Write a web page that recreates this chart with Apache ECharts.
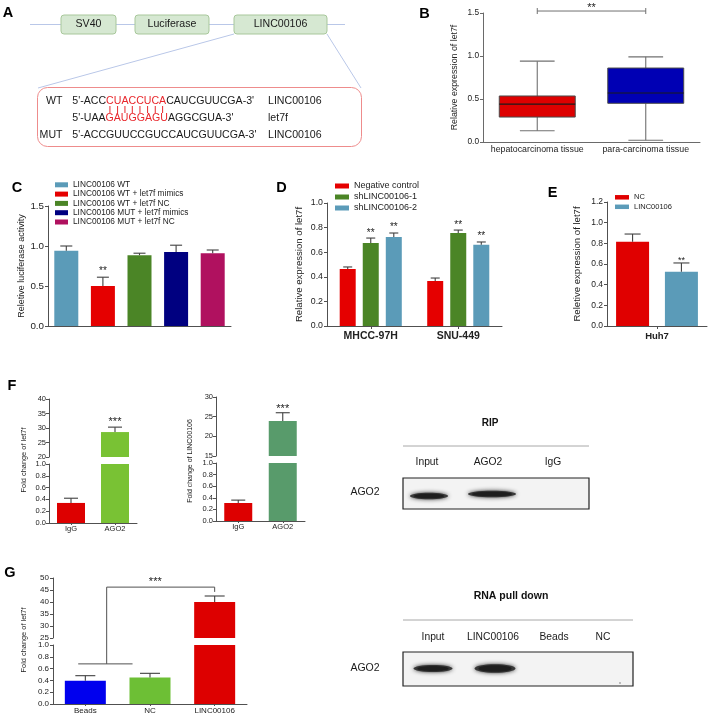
<!DOCTYPE html>
<html><head><meta charset="utf-8">
<script src="https://cdn.jsdelivr.net/npm/echarts@6.0.0/dist/echarts.min.js"></script>
<style>html,body{margin:0;padding:0;background:#fff}#c{width:708px;height:716px}</style>
</head><body><div id="c"></div>
<script>
// ================= DATA =================
// Panel A (construct diagram)
const aElements = ['SV40', 'Luciferase', 'LINC00106'];
const aRowLabels = ['WT', '', 'MUT'];
const aSeqPre = ["5'-ACC", "5'-UAA", "5'-ACCGUUCCGUCCAUCGUUCGA-3'"];
const aSeqSeed = ['CUACCUCA', 'GAUGGAGU', ''];
const aSeqPost = ["CAUCGUUCGA-3'", "AGGCGUA-3'", ''];
const aSeqName = ['LINC00106', 'let7f', 'LINC00106'];

// Panel B (box plot: min, Q1, median, Q3, max)
const bCategories = ['hepatocarcinoma tissue', 'para-carcinoma tissue'];
const bBoxes = [[0.13, 0.29, 0.44, 0.535, 0.94], [0.02, 0.45, 0.57, 0.86, 0.99]];
const bSig = '**';

// Panel C
const cSeries = ['LINC00106 WT', 'LINC00106 WT + let7f mimics', 'LINC00106 WT + let7f NC', 'LINC00106 MUT + let7f mimics', 'LINC00106 MUT + let7f NC'];
const cValues = [0.94, 0.50, 0.885, 0.925, 0.91];
const cErrTop = [1.00, 0.61, 0.91, 1.01, 0.95];
const cStars = ['', '**', '', '', ''];

// Panel D
const dCategories = ['MHCC-97H', 'SNU-449'];
const dSeries = ['Negative control', 'shLINC00106-1', 'shLINC00106-2'];
const dValues = [[0.463, 0.366], [0.675, 0.756], [0.723, 0.66]];
const dErrTop = [[0.48, 0.39], [0.715, 0.78], [0.756, 0.683]];
const dStars = [['', ''], ['**', '**'], ['**', '**']];

// Panel E
const eCategories = ['Huh7'];
const eSeries = ['NC', 'LINC00106'];
const eValues = [[0.815], [0.525]];
const eErrTop = [[0.89], [0.61]];
const eStars = [[''], ['**']];

// Panel F
const fCategories = ['IgG', 'AGO2'];
const f1Values = [0.34, 28.6];
const f1ErrTop = [0.42, 30.3];
const f1Stars = ['', '***'];
const f2Values = [0.31, 23.9];
const f2ErrTop = [0.36, 26.0];
const f2Stars = ['', '***'];

// Panel G
const gCategories = ['Beads', 'NC', 'LINC00106'];
const gValues = [0.395, 0.45, 40.0];
const gErrTop = [0.48, 0.52, 42.5];
const gSig = '***';

// Blots
const ripLanes = ['Input', 'AGO2', 'IgG'];
const ripBand = [1, 1, 0];
const pullLanes = ['Input', 'LINC00106', 'Beads', 'NC'];
const pullBand = [1, 1, 0, 0];

// ================= STYLE =================
const FONT = '"Liberation Sans", Arial, Helvetica, sans-serif';
const AXIS = '#505050', TXT = '#222';
const bColors = ['#dd0000', '#0000b4'];
const cColors = ['#5b9bb8', '#e50000', '#4b8526', '#000080', '#b0115f'];
const dColors = ['#e50000', '#4b8526', '#5b9bb8'];
const eColors = ['#e00000', '#5b9bb8'];
const f1Colors = ['#dd0000', '#79c234'];
const f2Colors = ['#dd0000', '#589b6b'];
const gColors = ['#0000ee', '#6dbf35', '#dd0000'];

const chart = echarts.init(document.getElementById('c'), null, {renderer: 'canvas', width: 708, height: 716});

function catAx(grid, data, o) {
  o = o || {};
  return {type: 'category', gridIndex: grid, data, show: o.show !== false,
    axisLine: {show: true, lineStyle: {color: o.color || AXIS, width: 1}},
    axisTick: {show: !!o.tick, alignWithLabel: true, length: o.tickLen || 3, lineStyle: {color: o.color || AXIS}},
    axisLabel: {show: o.labels !== false, fontSize: o.fs || 8, fontWeight: o.bold ? 'bold' : 'normal', color: TXT, fontFamily: FONT, margin: o.margin || 4, interval: 0},
    splitLine: {show: false}};
}
function valAx(grid, min, max, interval, o) {
  return {type: 'value', gridIndex: grid, min, max, interval,
    axisLine: {show: true, lineStyle: {color: o.color || AXIS, width: 1}},
    axisTick: {show: true, length: 3, lineStyle: {color: o.color || AXIS}},
    splitLine: {show: false},
    axisLabel: {fontSize: o.fs, color: TXT, fontFamily: FONT, margin: o.margin || 4, formatter: v => (+v).toFixed(o.dec)},
    name: o.name || '', nameLocation: 'middle', nameGap: o.nameGap || 20,
    nameTextStyle: {fontSize: o.nameFs || 9, color: TXT, fontFamily: FONT}};
}
function bar(name, xi, data, color, width, gap) {
  return {type: 'bar', name, xAxisIndex: xi, yAxisIndex: xi, data, barWidth: width, barGap: gap,
    itemStyle: {color}, z: 2, clip: true, silent: true};
}
function colored(vals, colors) { return vals.map((v, i) => ({value: v, itemStyle: {color: colors[i]}})); }
function errSeries(xi, vals, errs, stars, opt) {
  return {type: 'custom', xAxisIndex: xi, yAxisIndex: xi, z: 4, silent: true,
    data: vals.map((v, i) => [i, v, errs[i]]),
    renderItem(params, api) {
      const cs = params.coordSys;
      const i = api.value(0), v = api.value(1), e = api.value(2);
      const p1 = api.coord([i, v]), p2 = api.coord([i, e]);
      const x = p1[0] + (opt.offset || 0);
      const top = cs.y - 0.6, bot = cs.y + cs.height + 0.6;
      if (p2[1] < top || p2[1] > bot) return null;
      const y1 = Math.min(p1[1], bot);
      const st = {stroke: '#404040', lineWidth: 1.1};
      const ch = [
        {type: 'line', shape: {x1: x, y1: y1, x2: x, y2: p2[1]}, style: st},
        {type: 'line', shape: {x1: x - opt.cap / 2, y1: p2[1], x2: x + opt.cap / 2, y2: p2[1]}, style: st}
      ];
      const s = stars && stars[params.dataIndex];
      if (s) ch.push({type: 'text', x: x, y: p2[1] - opt.starGap + 0.27 * opt.starSize,
        style: {text: s, fontSize: opt.starSize, fontFamily: FONT, fill: '#222', align: 'center', verticalAlign: 'middle'}});
      return {type: 'group', children: ch};
    }};
}

const grids = [
  {left: 483, top: 13, width: 217, height: 129},  // 0 B
  {left: 48, top: 206, width: 183, height: 120},  // 1 C
  {left: 327, top: 203, width: 175, height: 123}, // 2 D
  {left: 607, top: 202, width: 100, height: 124}, // 3 E
  {left: 49, top: 399, width: 88, height: 58},    // 4 F1 upper
  {left: 49, top: 464, width: 88, height: 59},    // 5 F1 lower
  {left: 216, top: 397, width: 89, height: 59},   // 6 F2 upper
  {left: 216, top: 463, width: 89, height: 58},   // 7 F2 lower
  {left: 53, top: 578, width: 194, height: 60},   // 8 G upper
  {left: 53, top: 645, width: 194, height: 59}    // 9 G lower
].map(g => Object.assign({containLabel: false, outerBoundsMode: 'none'}, g));

const xAxes = [
  catAx(0, bCategories, {fs: 8.8, margin: 3, color: '#6a6a6a'}),
  catAx(1, cSeries, {labels: false}),
  catAx(2, dCategories, {fs: 10.5, bold: true, margin: 5, tick: true}),
  catAx(3, eCategories, {fs: 9.5, bold: true, margin: 5, tick: true}),
  catAx(4, fCategories, {show: false}),
  catAx(5, fCategories, {fs: 7.5, margin: 2, tick: true, tickLen: 2}),
  catAx(6, fCategories, {show: false}),
  catAx(7, fCategories, {fs: 7.5, margin: 2, tick: true, tickLen: 2}),
  catAx(8, gCategories, {show: false}),
  catAx(9, gCategories, {fs: 8, margin: 3, tick: true, tickLen: 2})
];
const yAxes = [
  valAx(0, 0, 1.5, 0.5, {fs: 8.3, dec: 1, color: '#6a6a6a', name: 'Relative expression of let7f', nameGap: 23.5, nameFs: 8.8}),
  valAx(1, 0, 1.5, 0.5, {fs: 9.8, dec: 1, name: 'Reletive luciferase activity', nameGap: 20, nameFs: 9}),
  valAx(2, 0, 1.0, 0.2, {fs: 8.8, dec: 1, name: 'Relative expression of let7f', nameGap: 23, nameFs: 9.6}),
  valAx(3, 0, 1.2, 0.2, {fs: 8.5, dec: 1, name: 'Reletive expression of let7f', nameGap: 25, nameFs: 9.6}),
  valAx(4, 20, 40, 5, {fs: 7.5, dec: 0, margin: 3}),
  valAx(5, 0, 1.0, 0.2, {fs: 7.5, dec: 1, margin: 3}),
  valAx(6, 15, 30, 5, {fs: 7.5, dec: 0, margin: 3}),
  valAx(7, 0, 1.0, 0.2, {fs: 7.5, dec: 1, margin: 3}),
  valAx(8, 25, 50, 5, {fs: 8, dec: 0, margin: 4}),
  valAx(9, 0, 1.0, 0.2, {fs: 8, dec: 1, margin: 4})
];

const series = [];
// B box plot
series.push({type: 'custom', name: 'B box', xAxisIndex: 0, yAxisIndex: 0, z: 3, silent: true,
  data: bBoxes.map((b, i) => [i].concat(b)), encode: {x: 0, y: [1, 2, 3, 4, 5]},
  renderItem(params, api) {
    const i = api.value(0);
    const y = [1, 2, 3, 4, 5].map(k => api.coord([i, api.value(k)])[1]);
    const cx = api.coord([i, 0])[0];
    const band = api.size([1, 0])[0];
    const hw = band * 0.35, cw = band * 0.16;
    const ws = {stroke: '#707070', lineWidth: 1.1};
    return {type: 'group', children: [
      {type: 'line', shape: {x1: cx, y1: y[0], x2: cx, y2: y[1]}, style: ws},
      {type: 'line', shape: {x1: cx, y1: y[3], x2: cx, y2: y[4]}, style: ws},
      {type: 'line', shape: {x1: cx - cw, y1: y[0], x2: cx + cw, y2: y[0]}, style: ws},
      {type: 'line', shape: {x1: cx - cw, y1: y[4], x2: cx + cw, y2: y[4]}, style: ws},
      {type: 'rect', shape: {x: cx - hw, y: y[3], width: 2 * hw, height: y[1] - y[3]}, style: {fill: bColors[i], stroke: '#4a4a4a', lineWidth: 1}},
      {type: 'line', shape: {x1: cx - hw, y1: y[2], x2: cx + hw, y2: y[2]}, style: {stroke: '#1a1a1a', lineWidth: 1.2}}
    ]};
  }});
// B significance bracket
series.push({type: 'custom', name: 'B sig', xAxisIndex: 0, yAxisIndex: 0, z: 3, silent: true,
  data: [[0, 1]],
  renderItem(params, api) {
    const lvl = 1.523;
    const a = api.coord([api.value(0), lvl]), b = api.coord([api.value(1), lvl]);
    const st = {stroke: '#707070', lineWidth: 1};
    return {type: 'group', children: [
      {type: 'line', shape: {x1: a[0], y1: a[1], x2: b[0], y2: b[1]}, style: st},
      {type: 'line', shape: {x1: a[0], y1: a[1] - 3, x2: a[0], y2: a[1] + 3}, style: st},
      {type: 'line', shape: {x1: b[0], y1: b[1] - 3, x2: b[0], y2: b[1] + 3}, style: st},
      {type: 'text', x: (a[0] + b[0]) / 2, y: a[1] - 6 + 3, style: {text: bSig, fontSize: 11, fontFamily: FONT, fill: '#222', align: 'center', verticalAlign: 'middle'}}
    ]};
  }});
// C
cSeries.forEach((n, k) => series.push(bar(n, 1, cValues.map((v, j) => j === k ? v : '-'), cColors[k], 24, '-100%')));
series.push(errSeries(1, cValues, cErrTop, cStars, {offset: 0, cap: 12, starSize: 10, starGap: 9}));
// D
dSeries.forEach((n, k) => {
  series.push(bar(n, 2, dValues[k], dColors[k], 16, '44%'));
  series.push(errSeries(2, dValues[k], dErrTop[k], dStars[k], {offset: (k - 1) * 16 * 1.44, cap: 9, starSize: 10, starGap: 8}));
});
// E
eSeries.forEach((n, k) => {
  series.push(bar(n, 3, eValues[k], eColors[k], 33, '48%'));
  series.push(errSeries(3, eValues[k], eErrTop[k], eStars[k], {offset: (k - 0.5) * 33 * 1.48, cap: 16, starSize: 9, starGap: 5}));
});
// F1
series.push(bar('F1 upper', 4, colored(f1Values, f1Colors), null, 28));
series.push(bar('F1 lower', 5, colored(f1Values, f1Colors), null, 28));
series.push(errSeries(4, f1Values, f1ErrTop, f1Stars, {cap: 14, starSize: 11, starGap: 8}));
series.push(errSeries(5, f1Values, f1ErrTop, f1Stars, {cap: 14, starSize: 11, starGap: 8}));
// F2
series.push(bar('F2 upper', 6, colored(f2Values, f2Colors), null, 28));
series.push(bar('F2 lower', 7, colored(f2Values, f2Colors), null, 28));
series.push(errSeries(6, f2Values, f2ErrTop, f2Stars, {cap: 14, starSize: 11, starGap: 7}));
series.push(errSeries(7, f2Values, f2ErrTop, f2Stars, {cap: 14, starSize: 11, starGap: 7}));
// G
series.push(bar('G upper', 8, colored(gValues, gColors), null, 41));
series.push(bar('G lower', 9, colored(gValues, gColors), null, 41));
series.push(errSeries(8, gValues, gErrTop, null, {cap: 20}));
series.push(errSeries(9, gValues, gErrTop, null, {cap: 20}));

const legText = fs => ({fontSize: fs, fontFamily: FONT, color: '#222'});
const legends = [
  {data: cSeries, left: 55, top: 180.8, orient: 'vertical', itemWidth: 13, itemHeight: 5, itemGap: 1.3, padding: 0, icon: 'rect', selectedMode: false, textStyle: legText(8.3)},
  {data: dSeries, left: 335, top: 181.5, orient: 'vertical', itemWidth: 14, itemHeight: 5, itemGap: 2, padding: 0, icon: 'rect', selectedMode: false, textStyle: legText(9)},
  {data: eSeries, left: 615, top: 193.3, orient: 'vertical', itemWidth: 14, itemHeight: 4.5, itemGap: 1.5, padding: 0, icon: 'rect', selectedMode: false, textStyle: legText(7.5)}
];

chart.setOption({animation: false, textStyle: {fontFamily: FONT}, grid: grids, xAxis: xAxes, yAxis: yAxes, legend: legends, series});

// ================= GRAPHICS =================
const G = [];
function txt(x, y, s, fs, o) {
  o = o || {};
  G.push({type: 'text', x, y, rotation: o.rot || 0, z: 10, silent: true,
    style: Object.assign({text: s, fontSize: fs, fontFamily: FONT, fill: o.fill || '#1a1a1a', fontWeight: o.bold ? 'bold' : 'normal',
      align: o.align || 'center', verticalAlign: 'middle'}, o.rich ? {rich: o.rich} : {})});
}
function ln(x1, y1, x2, y2, stroke, w) {
  G.push({type: 'line', silent: true, z: 9, shape: {x1, y1, x2, y2}, style: {stroke, lineWidth: w || 1}});
}
// panel letters
[['A', 8, 12.5], ['B', 424.5, 13.5], ['C', 17, 188], ['D', 281.5, 187.5], ['E', 552.5, 193], ['F', 12, 385.5], ['G', 10, 573]]
  .forEach(l => txt(l[1], l[2], l[0], 14.5, {bold: true, fill: '#000'}));

// Panel A
const AFS = 10.6, LINEC = '#b9c7e8';
ln(30, 24.5, 345, 24.5, LINEC, 1);
const aBoxX = [[61, 55], [135, 74], [234, 93]];
aElements.forEach((s, i) => {
  G.push({type: 'rect', silent: true, z: 9, shape: {x: aBoxX[i][0], y: 15, width: aBoxX[i][1], height: 19, r: 3},
    style: {fill: '#d6e8d2', stroke: '#a8c79b', lineWidth: 1}});
  txt(aBoxX[i][0] + aBoxX[i][1] / 2, 24.5, s, AFS);
});
ln(234, 34, 38, 88, LINEC, 1);
ln(327, 34, 361, 88, LINEC, 1);
G.push({type: 'rect', silent: true, z: 9, shape: {x: 37.5, y: 87.5, width: 324, height: 59, r: 10},
  style: {fill: '#fff', stroke: '#ee8c8c', lineWidth: 1}});
const aRowY = [101, 118, 135], SEQX = 72.3;
const RED = '#e8262b';
aRowY.forEach((y, k) => {
  if (aRowLabels[k]) txt(62.5, y, aRowLabels[k], AFS, {align: 'right'});
  const s = aSeqPre[k] + (aSeqSeed[k] ? '{r|' + aSeqSeed[k] + '}' : '') + aSeqPost[k];
  txt(SEQX, y, s, AFS, {align: 'left', rich: {r: {fill: RED, fontSize: AFS, fontFamily: FONT}}});
  txt(268, y, aSeqName[k], AFS, {align: 'left'});
});
// base-pair ticks between the seed sequences
(function () {
  const ctx = document.createElement('canvas').getContext('2d');
  ctx.font = AFS + 'px ' + FONT;
  const pre = ctx.measureText(aSeqPre[0]).width;
  const seed = aSeqSeed[0];
  for (let i = 0; i < seed.length; i++) {
    const x = SEQX + pre + ctx.measureText(seed.slice(0, i)).width + ctx.measureText(seed[i]).width / 2;
    ln(x, 106, x, 113, RED, 1);
  }
})();

// F/G y names
txt(24, 460, 'Fold change of let7f', 7.4, {rot: Math.PI / 2});
txt(190, 461, 'Fold change of LINC00106', 7, {rot: Math.PI / 2});
txt(24, 640, 'Fold change of let7f', 7.4, {rot: Math.PI / 2});

// G significance bracket
(function () {
  const P = (g, pt) => chart.convertToPixel({gridIndex: g}, pt);
  const g0 = P(9, [0, 0.68]), g1 = P(9, [1, 0.68]);
  const band = g1[0] - g0[0];
  const vx = g0[0] + 0.33 * band;
  const gt = P(8, [2, 46.2]), gd = P(8, [2, 44.2]);
  const c = '#505050';
  ln(g0[0] - 0.11 * band, g0[1], g1[0] - 0.27 * band, g0[1], c, 1);
  ln(vx, g0[1], vx, gt[1], c, 1);
  ln(vx, gt[1], gt[0], gt[1], c, 1);
  ln(gt[0], gt[1], gt[0], gd[1], c, 1);
  txt(vx + 0.45 * (gt[0] - vx), gt[1] - 8 + 3, gSig, 11);
})();

// Blots
function blot(o) {
  txt(o.titleX, o.titleY, o.title, o.titleFs, {bold: true, fill: '#111'});
  ln(403, o.lineY, o.right, o.lineY, '#a8a8a8', 1);
  o.lanes.forEach((s, i) => txt(o.laneX[i], o.labelY, s, 10.3));
  G.push({type: 'rect', silent: true, z: 9, shape: {x: 403, y: o.boxY, width: o.right - 403, height: o.boxH},
    style: {fill: '#f3f3f3', stroke: '#222', lineWidth: 1.2}});
  txt(365, o.boxY + o.boxH / 2 - 1, 'AGO2', 10.5);
  o.bands.forEach((b, i) => {
    if (!b) return;
    G.push({type: 'ellipse', silent: true, z: 10, shape: {cx: o.bandX[i], cy: o.bandY[i], rx: o.bandW[i] / 2, ry: o.bandH[i] / 2},
      style: {fill: '#3a3a3a', shadowBlur: 4, shadowColor: 'rgba(40,40,40,0.9)'}});
    G.push({type: 'ellipse', silent: true, z: 11, shape: {cx: o.bandX[i], cy: o.bandY[i], rx: o.bandW[i] / 2 - 4, ry: o.bandH[i] / 2 - 1.2},
      style: {fill: '#1e1e1e', shadowBlur: 2, shadowColor: 'rgba(20,20,20,0.8)'}});
  });
}
blot({title: 'RIP', titleX: 490, titleY: 423, titleFs: 10, lineY: 446, right: 589, labelY: 462,
  lanes: ripLanes, laneX: [427, 488, 553], boxY: 478, boxH: 31, bands: ripBand,
  bandX: [429, 492], bandY: [496, 494], bandW: [38, 48], bandH: [6.5, 6.5]});
blot({title: 'RNA pull down', titleX: 511, titleY: 596, titleFs: 10.5, lineY: 620, right: 633, labelY: 637,
  lanes: pullLanes, laneX: [433, 493, 554, 603], boxY: 652, boxH: 34, bands: pullBand,
  bandX: [433, 495], bandY: [668.5, 668.5], bandW: [39, 41], bandH: [7, 8.5]});
G.push({type: 'circle', silent: true, z: 10, shape: {cx: 620, cy: 683, r: 0.8}, style: {fill: '#777'}});

chart.setOption({graphic: G});
</script></body></html>
